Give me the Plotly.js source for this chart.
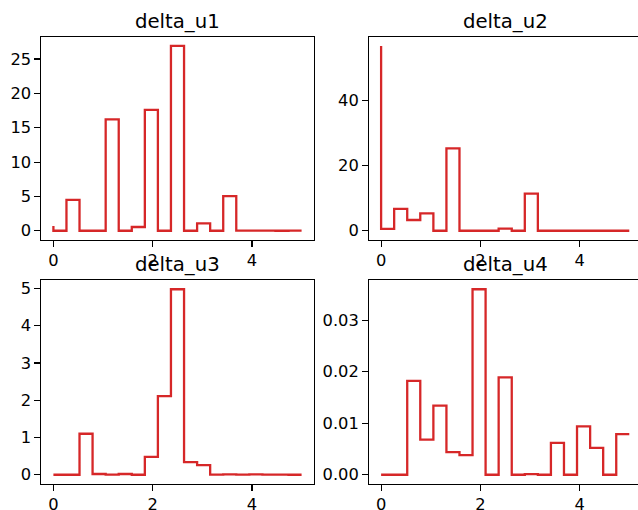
<!DOCTYPE html>
<html>
<head>
<meta charset="utf-8">
<script src="https://cdn.plot.ly/plotly-3.0.1.min.js"></script>
<style>
html,body{margin:0;padding:0;overflow:hidden;background:#fff;width:638px;height:510px;}
#chart{width:642px;height:510px;}
</style>
</head>
<body>
<div id="chart"></div>
<script>
const xVals = [0, 0.263, 0.526, 0.789, 1.053, 1.316, 1.579, 1.842, 2.105, 2.368, 2.632, 2.895, 3.158, 3.421, 3.684, 3.947, 4.211, 4.474, 4.737, 5.0];
const titles = ["delta_u1", "delta_u2", "delta_u3", "delta_u4"];
const deltaU1 = [0.7, 0, 4.5, 0, 0, 16.2, 0, 0.55, 17.6, 0, 26.9, 0, 1.07, 0, 5.05, 0.02, 0.02, 0.01, 0, 0.01];
const deltaU2 = [56.6, 0.6, 6.7, 3.3, 5.3, 0, 25.2, 0, 0, 0, 0.65, 0, 11.4, 0, 0, 0, 0, 0, 0, 0];
const deltaU3 = [0, 0, 0, 1.1, 0.02, 0.005, 0.02, 0, 0.48, 2.11, 4.98, 0.34, 0.26, 0.005, 0.01, 0.005, 0.01, 0.005, 0.005, 0];
const deltaU4 = [0, 0, 0, 0.0182, 0.0068, 0.0134, 0.0044, 0.0038, 0.036, 0, 0.0189, 0, 0.0001, 0, 0.0062, 0, 0.0094, 0.0052, 0, 0.0079];
const yTicks = [[0, 5, 10, 15, 20, 25], [0, 20, 40], [0, 1, 2, 3, 4, 5], [0, 0.01, 0.02, 0.03]];
const xTicks = [0, 2, 4];

const series = [deltaU1, deltaU2, deltaU3, deltaU4];
const W = 642, H = 510;
const boxes = [
  {l: 41, r: 314, t: 36.7, b: 240},
  {l: 368.7, r: 641.7, t: 36.7, b: 240},
  {l: 41, r: 314, t: 280, b: 484},
  {l: 368.7, r: 641.7, t: 280, b: 484}
];
const fontFam = "DejaVu Sans, sans-serif";
const tickSize = 16.3, titleSize = 19.7;
const traces = [];
const layout = {
  width: W, height: H,
  margin: {l: 0, r: 0, t: 0, b: 0},
  paper_bgcolor: "#fff", plot_bgcolor: "#fff",
  showlegend: false,
  font: {family: fontFam, size: tickSize, color: "#000"},
  annotations: []
};
series.forEach((ys, i) => {
  const n = i + 1;
  const xa = n === 1 ? "x" : "x" + n;
  const ya = n === 1 ? "y" : "y" + n;
  traces.push({x: xVals, y: ys, xaxis: xa, yaxis: ya, type: "scatter", mode: "lines",
    line: {shape: "vh", color: "#d62728", width: 2.3}, hoverinfo: "skip"});
  const bx = boxes[i];
  const ymin = Math.min(...ys), ymax = Math.max(...ys);
  const pad = (ymax - ymin) * 0.05;
  const common = {showline: true, mirror: true, linecolor: "#000", linewidth: 1.1,
    ticks: "outside", ticklen: 5.5, tickwidth: 1.1, tickcolor: "#000",
    showgrid: false, zeroline: false, tickfont: {family: fontFam, size: tickSize, color: "#000"}};
  layout[xa === "x" ? "xaxis" : "xaxis" + n] = Object.assign({}, common, {
    domain: [bx.l / W, bx.r / W], anchor: ya, range: [-0.25, 5.25],
    tickmode: "array", tickvals: xTicks, ticktext: xTicks.map(String)
  });
  layout[ya === "y" ? "yaxis" : "yaxis" + n] = Object.assign({}, common, {
    domain: [1 - bx.b / H, 1 - bx.t / H], anchor: xa, range: [ymin - pad, ymax + pad],
    tickmode: "array", tickvals: yTicks[i],
    ticktext: yTicks[i].map(v => i === 3 ? v.toFixed(2) : String(v))
  });
  layout.annotations.push({text: titles[i], xref: "paper", yref: "paper",
    x: (bx.l + bx.r) / 2 / W, y: 1 - bx.t / H, xanchor: "center", yanchor: "bottom",
    yshift: 2, showarrow: false, font: {family: fontFam, size: titleSize, color: "#000"}});
});
Plotly.newPlot("chart", traces, layout, {staticPlot: true, displayModeBar: false});
</script>
</body>
</html>
